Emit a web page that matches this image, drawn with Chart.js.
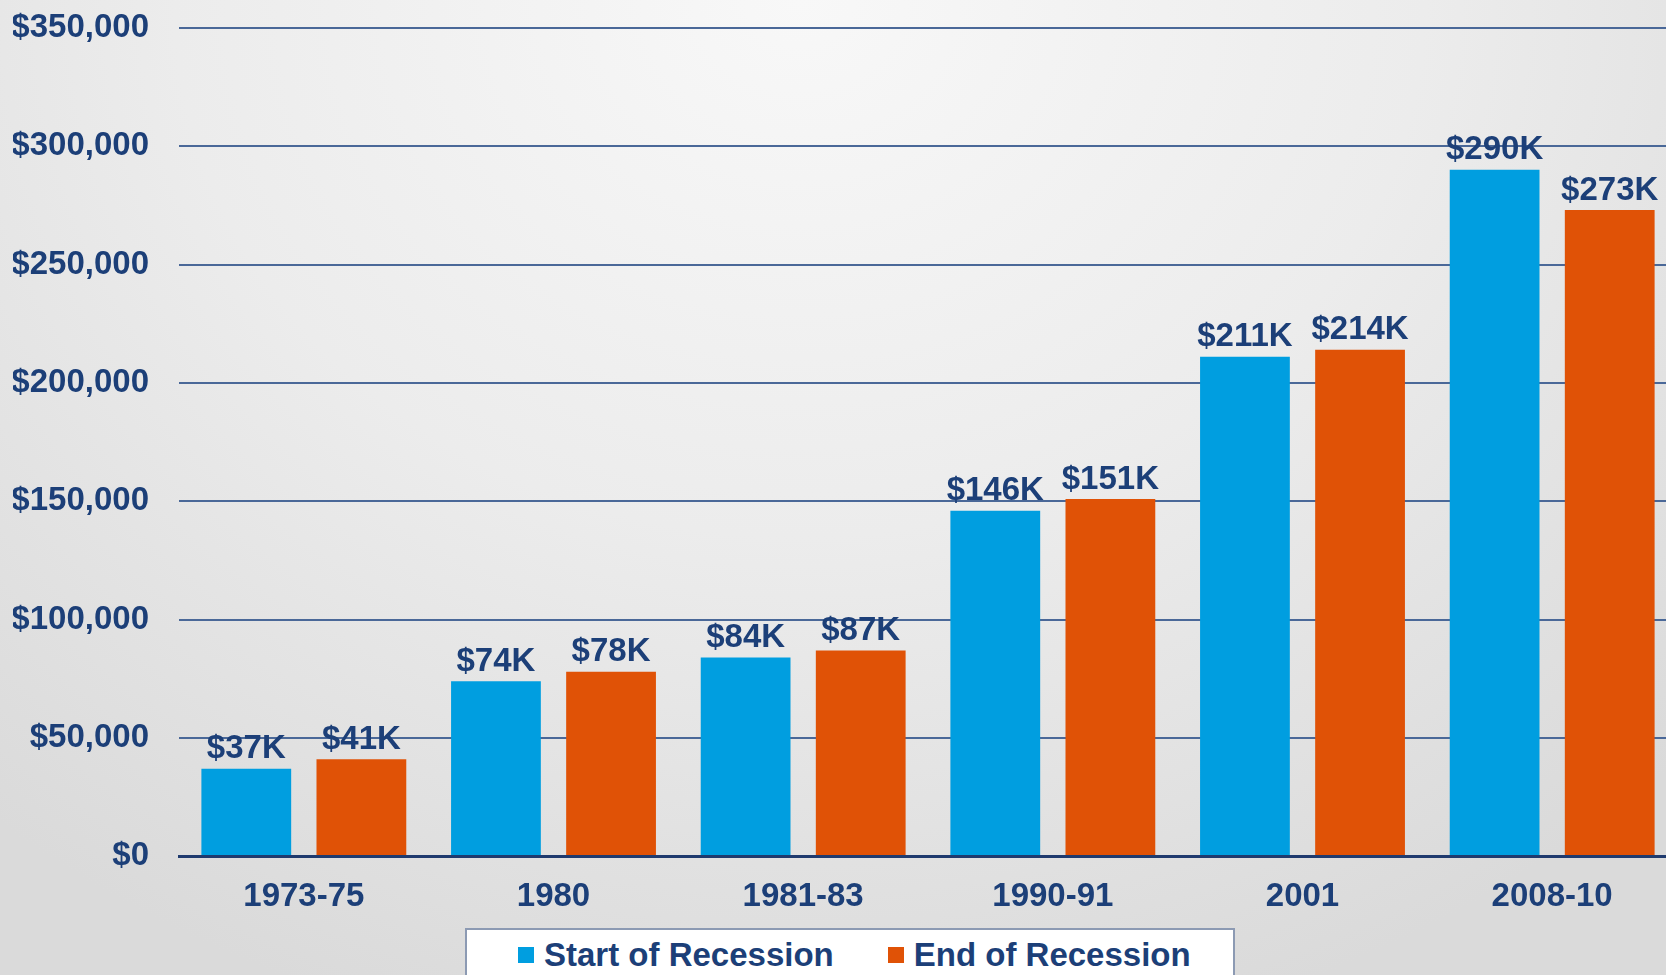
<!DOCTYPE html>
<html>
<head>
<meta charset="utf-8">
<script src="https://cdn.jsdelivr.net/npm/chart.js@4/dist/chart.umd.min.js"></script>
<style>
html, body { margin: 0; padding: 0; overflow: hidden; }
body {
  width: 1666px; height: 975px;
  background: radial-gradient(ellipse 75% 110% at 48% 0%, #f8f8f8 0%, #ececec 50%, #dadada 100%);
  font-family: "Liberation Sans", Arial, sans-serif;
}
#wrap { position: absolute; left: 0; top: -22px; width: 1677px; height: 997px; }
#legend {
  position: absolute; left: 465px; top: 928px; width: 770px; height: 60px;
  background: #fff; border: 2px solid #8c9ab3; box-sizing: border-box;
  display: flex; padding-left: 51px; white-space: nowrap;
  font: bold 33px "Liberation Sans", Arial, sans-serif; color: #1c3f78;
}
#legend .item { display: flex; align-items: center; flex-shrink: 0; height: 49px; margin-right: 54px; }
#legend .sw { width: 16px; height: 16px; margin-right: 10px; flex-shrink: 0; }
</style>
</head>
<body>
<div id="wrap"><canvas id="myChart"></canvas></div>
<div id="legend"></div>
<script>
// 景気後退の開始時・終了時の値
var categories = ['1973-75', '1980', '1981-83', '1990-91', '2001', '2008-10'];
var startValues = [37000, 74000, 84000, 146000, 211000, 290000];
var endValues = [41000, 78000, 87000, 151000, 214000, 273000];
var seriesNames = ['Start of Recession', 'End of Recession'];
var seriesColors = ['#009ee0', '#e05206'];

var textColor = '#1c3f78';
var font = "'Liberation Sans', Arial, sans-serif";

// 棒の上に $xxK を描く
var valueLabels = {
    id: 'valueLabels',
    afterDatasetsDraw: function(chart) {
        var ctx = chart.ctx;
        ctx.save();
        ctx.font = 'bold 33px ' + font;
        ctx.fillStyle = textColor;
        ctx.textAlign = 'center';
        ctx.textBaseline = 'bottom';
        chart.data.datasets.forEach(function(ds, i) {
            var meta = chart.getDatasetMeta(i);
            meta.data.forEach(function(bar, j) {
                var label = '$' + Math.round(ds.data[j] / 1000) + 'K';
                ctx.fillText(label, bar.x, bar.y - 3);
            });
        });
        ctx.restore();
    }
};

var ctx = document.getElementById('myChart').getContext('2d');
var myChart = new Chart(ctx, {
    type: 'bar',
    data: {
        labels: categories,
        datasets: [{
            label: seriesNames[0],
            data: startValues,
            backgroundColor: seriesColors[0]
        }, {
            label: seriesNames[1],
            data: endValues,
            backgroundColor: seriesColors[1]
        }]
    },
    options: {
        responsive: true,
        maintainAspectRatio: false,
        animation: false,
        layout: { padding: { left: 13, top: 10, right: 0, bottom: 45 } },
        datasets: {
            bar: { categoryPercentage: 0.922, barPercentage: 0.78 }
        },
        plugins: {
            legend: { display: false },
            tooltip: { enabled: false }
        },
        scales: {
            x: {
                z: 1,
                grid: { display: false },
                border: { display: true, color: '#1f3a6e', width: 3 },
                ticks: { color: textColor, font: { family: font, size: 33, weight: 'bold' }, padding: 13 }
            },
            y: {
                min: 0,
                max: 350000,
                afterFit: function(s) { s.width = 166; },
                border: { display: false },
                grid: {
                    drawTicks: false,
                    color: function(c) { return c.tick && c.tick.value === 0 ? '#1f3a6e' : '#4a6898'; },
                    lineWidth: function(c) { return c.tick && c.tick.value === 0 ? 3 : 2; }
                },
                ticks: {
                    stepSize: 50000,
                    padding: 30,
                    color: textColor,
                    font: { family: font, size: 33, weight: 'bold' },
                    callback: function(v) { return '$' + v.toLocaleString('en-US'); }
                }
            }
        }
    },
    plugins: [valueLabels]
});

// 凡例 (枠付き)
var legend = document.getElementById('legend');
myChart.data.datasets.forEach(function(ds) {
    var item = document.createElement('div');
    item.className = 'item';
    var sw = document.createElement('span');
    sw.className = 'sw';
    sw.style.background = ds.backgroundColor;
    var txt = document.createElement('span');
    txt.textContent = ds.label;
    item.appendChild(sw);
    item.appendChild(txt);
    legend.appendChild(item);
});
</script>
</body>
</html>
